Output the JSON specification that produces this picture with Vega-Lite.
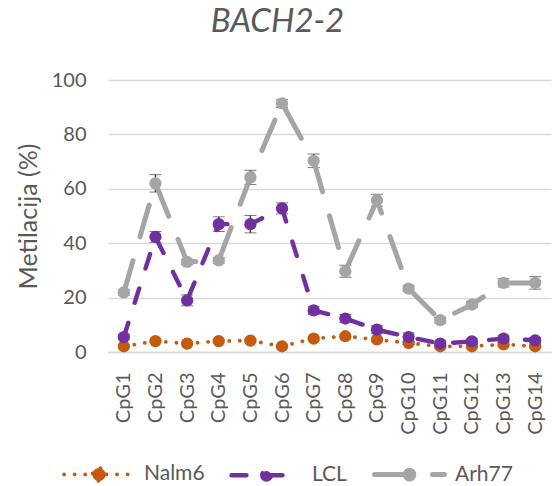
{
  "$schema": "https://vega.github.io/schema/vega-lite/v6.json",
  "autosize": {"type": "none"},
  "width": 443,
  "height": 272,
  "padding": {"left": 108, "top": 80, "right": 4, "bottom": 134},
  "background": "white",
  "title": {"text": "BACH2-2", "fontStyle": "italic", "fontWeight": "normal", "fontSize": 33, "color": "#595959", "font": "Lato", "dx": -52, "offset": 31, "anchor": "middle"},
  "config": {
    "view": {"stroke": null},
    "font": "Lato",
    "axis": {"labelFont": "Lato", "titleFont": "Lato"},
    "legend": {"labelFont": "Lato"}
  },
  "data": {"values": [
    {"cpg": "CpG1", "series": "Nalm6", "value": 2.1, "err": 0.5},
    {"cpg": "CpG2", "series": "Nalm6", "value": 4.0, "err": 0.5},
    {"cpg": "CpG3", "series": "Nalm6", "value": 3.1, "err": 0.5},
    {"cpg": "CpG4", "series": "Nalm6", "value": 4.0, "err": 0.5},
    {"cpg": "CpG5", "series": "Nalm6", "value": 4.2, "err": 0.5},
    {"cpg": "CpG6", "series": "Nalm6", "value": 2.1, "err": 0.5},
    {"cpg": "CpG7", "series": "Nalm6", "value": 4.9, "err": 0.5},
    {"cpg": "CpG8", "series": "Nalm6", "value": 5.8, "err": 0.5},
    {"cpg": "CpG9", "series": "Nalm6", "value": 4.6, "err": 0.5},
    {"cpg": "CpG10", "series": "Nalm6", "value": 3.3, "err": 0.5},
    {"cpg": "CpG11", "series": "Nalm6", "value": 2.1, "err": 0.5},
    {"cpg": "CpG12", "series": "Nalm6", "value": 2.1, "err": 0.5},
    {"cpg": "CpG13", "series": "Nalm6", "value": 2.8, "err": 0.5},
    {"cpg": "CpG14", "series": "Nalm6", "value": 2.1, "err": 0.5},
    {"cpg": "CpG1", "series": "LCL", "value": 5.5, "err": 1},
    {"cpg": "CpG2", "series": "LCL", "value": 42.3, "err": 2},
    {"cpg": "CpG3", "series": "LCL", "value": 19.0, "err": 2},
    {"cpg": "CpG4", "series": "LCL", "value": 47.0, "err": 2.7},
    {"cpg": "CpG5", "series": "LCL", "value": 47.0, "err": 3.2},
    {"cpg": "CpG6", "series": "LCL", "value": 52.8, "err": 2},
    {"cpg": "CpG7", "series": "LCL", "value": 15.3, "err": 1.5},
    {"cpg": "CpG8", "series": "LCL", "value": 12.3, "err": 1.5},
    {"cpg": "CpG9", "series": "LCL", "value": 8.2, "err": 1.5},
    {"cpg": "CpG10", "series": "LCL", "value": 5.5, "err": 1.5},
    {"cpg": "CpG11", "series": "LCL", "value": 3.1, "err": 1},
    {"cpg": "CpG12", "series": "LCL", "value": 3.9, "err": 1},
    {"cpg": "CpG13", "series": "LCL", "value": 4.9, "err": 1},
    {"cpg": "CpG14", "series": "LCL", "value": 4.3, "err": 1},
    {"cpg": "CpG1", "series": "Arh77", "value": 21.9, "err": 1},
    {"cpg": "CpG2", "series": "Arh77", "value": 62.0, "err": 3.2},
    {"cpg": "CpG3", "series": "Arh77", "value": 33.1, "err": 1},
    {"cpg": "CpG4", "series": "Arh77", "value": 33.7, "err": 1},
    {"cpg": "CpG5", "series": "Arh77", "value": 64.2, "err": 2.6},
    {"cpg": "CpG6", "series": "Arh77", "value": 91.4, "err": 1.5},
    {"cpg": "CpG7", "series": "Arh77", "value": 70.3, "err": 2.5},
    {"cpg": "CpG8", "series": "Arh77", "value": 29.7, "err": 2.2},
    {"cpg": "CpG9", "series": "Arh77", "value": 55.8, "err": 2.2},
    {"cpg": "CpG10", "series": "Arh77", "value": 23.3, "err": 1},
    {"cpg": "CpG11", "series": "Arh77", "value": 11.7, "err": 1},
    {"cpg": "CpG12", "series": "Arh77", "value": 17.4, "err": 1},
    {"cpg": "CpG13", "series": "Arh77", "value": 25.4, "err": 1.5},
    {"cpg": "CpG14", "series": "Arh77", "value": 25.4, "err": 2.3}
  ]},
  "encoding": {
    "x": {
      "field": "cpg", "type": "nominal",
      "sort": ["CpG1","CpG2","CpG3","CpG4","CpG5","CpG6","CpG7","CpG8","CpG9","CpG10","CpG11","CpG12","CpG13","CpG14"],
      "scale": {"type": "point", "padding": 0.5},
      "axis": {"title": null, "labelAngle": -90, "labelFontSize": 20, "labelColor": "#595959", "labelPadding": 20, "ticks": false, "tickSize": 0, "domainColor": "#D9D9D9", "domainWidth": 1.5, "grid": false}
    },
    "y": {
      "field": "value", "type": "quantitative",
      "scale": {"domain": [0, 100], "nice": false},
      "axis": {"title": "Metilacija (%)", "titleFontSize": 25, "titleColor": "#595959", "titleFontWeight": "normal", "titlePadding": 10, "values": [0,20,40,60,80,100], "labelFontSize": 20, "labelColor": "#595959", "labelPadding": 22, "ticks": false, "tickSize": 0, "domain": false, "gridColor": "#D9D9D9", "gridWidth": 1.5}
    }
  },
  "layer": [
    {
      "mark": {"type": "errorbar", "ticks": {"size": 12, "color": "#404040", "strokeWidth": 1.5}, "rule": {"color": "#404040", "strokeWidth": 1.5}},
      "encoding": {
        "y": {"field": "value", "type": "quantitative"},
        "yError": {"field": "err"}
      }
    },
    {
      "mark": {"type": "line", "strokeCap": "round", "strokeJoin": "round"},
      "encoding": {
        "color": {
          "field": "series", "type": "nominal",
          "scale": {"domain": ["Nalm6", "LCL", "Arh77"], "range": ["#C55A11", "#7030A0", "#A5A5A5"]},
          "legend": {"title": null, "orient": "none", "legendX": -46, "legendY": 357, "direction": "horizontal", "padding": 0, "columnPadding": 17, "labelOffset": 8, "labelFontSize": 21, "labelColor": "#595959", "symbolSize": 4900, "symbolStrokeWidth": 4.5, "symbolType": "M-1,0L1,0", "encode": {"symbols": {"update": {"fill": {"scale": "color", "field": "value"}, "shape": {"signal": "datum.value === 'Nalm6' ? 'M-1,0L1,0M0.186,0C0.186,0.103,0.103,0.186,0,0.186C-0.103,0.186,-0.186,0.103,-0.186,0C-0.186,-0.103,-0.103,-0.186,0,-0.186C0.103,-0.186,0.186,-0.103,0.186,0Z' : 'M-1,0L1,0M0.123,0C0.123,0.068,0.068,0.123,0,0.123C-0.068,0.123,-0.123,0.068,-0.123,0C-0.123,-0.068,-0.068,-0.123,0,-0.123C0.068,-0.123,0.123,-0.068,0.123,0Z'"}, "strokeCap": {"value": "round"}}}}}
        },
        "strokeDash": {
          "field": "series", "type": "nominal",
          "scale": {"domain": ["Nalm6", "LCL", "Arh77"], "range": [[0.1, 10.5], [15, 21], [33, 25]]},
          "legend": {"title": null, "orient": "none", "legendX": -46, "legendY": 357, "direction": "horizontal", "padding": 0, "columnPadding": 17, "labelOffset": 8, "labelFontSize": 21, "labelColor": "#595959", "symbolSize": 4900, "symbolStrokeWidth": 4.5, "symbolType": "M-1,0L1,0", "encode": {"symbols": {"update": {"fill": {"scale": "color", "field": "value"}, "shape": {"signal": "datum.value === 'Nalm6' ? 'M-1,0L1,0M0.186,0C0.186,0.103,0.103,0.186,0,0.186C-0.103,0.186,-0.186,0.103,-0.186,0C-0.186,-0.103,-0.103,-0.186,0,-0.186C0.103,-0.186,0.186,-0.103,0.186,0Z' : 'M-1,0L1,0M0.123,0C0.123,0.068,0.068,0.123,0,0.123C-0.068,0.123,-0.123,0.068,-0.123,0C-0.123,-0.068,-0.068,-0.123,0,-0.123C0.068,-0.123,0.123,-0.068,0.123,0Z'"}, "strokeCap": {"value": "round"}}}}}
        },
        "strokeWidth": {
          "field": "series", "type": "nominal",
          "scale": {"domain": ["Nalm6", "LCL", "Arh77"], "range": [3.8, 5, 5]},
          "legend": null
        }
      }
    },
    {
      "mark": {"type": "point", "filled": true, "opacity": 1, "size": 150, "shape": "circle"},
      "encoding": {
        "color": {
          "field": "series", "type": "nominal",
          "scale": {"domain": ["Nalm6", "LCL", "Arh77"], "range": ["#C55A11", "#7030A0", "#A5A5A5"]},
          "legend": {"title": null, "orient": "none", "legendX": -46, "legendY": 357, "direction": "horizontal", "padding": 0, "columnPadding": 17, "labelOffset": 8, "labelFontSize": 21, "labelColor": "#595959", "symbolSize": 4900, "symbolStrokeWidth": 4.5, "symbolType": "M-1,0L1,0", "encode": {"symbols": {"update": {"fill": {"scale": "color", "field": "value"}, "shape": {"signal": "datum.value === 'Nalm6' ? 'M-1,0L1,0M0.186,0C0.186,0.103,0.103,0.186,0,0.186C-0.103,0.186,-0.186,0.103,-0.186,0C-0.186,-0.103,-0.103,-0.186,0,-0.186C0.103,-0.186,0.186,-0.103,0.186,0Z' : 'M-1,0L1,0M0.123,0C0.123,0.068,0.068,0.123,0,0.123C-0.068,0.123,-0.123,0.068,-0.123,0C-0.123,-0.068,-0.068,-0.123,0,-0.123C0.068,-0.123,0.123,-0.068,0.123,0Z'"}, "strokeCap": {"value": "round"}}}}}
        }
      }
    }
  ]
}
